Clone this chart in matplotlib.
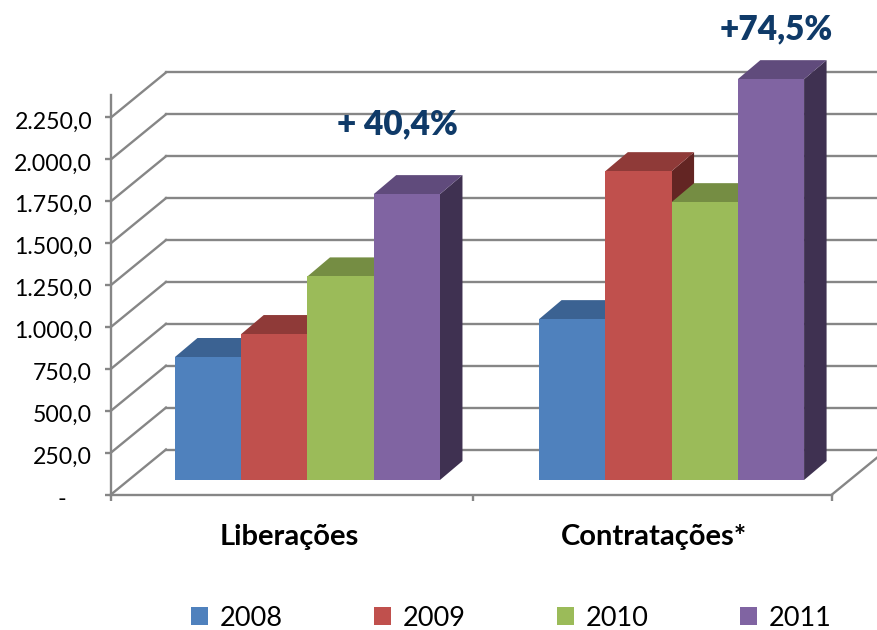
import matplotlib
matplotlib.use("Agg")
import matplotlib.pyplot as plt
from matplotlib.patches import Patch
from matplotlib.transforms import ScaledTranslation

plt.rcParams['font.family'] = ['Lato', 'DejaVu Sans']

categories = ['Liberações', 'Contratações*']
years = ['2008', '2009', '2010', '2011']
liberacoes = [734, 871, 1215, 1706]
contratacoes = [960, 1843, 1658, 2392]
tick_values = [0, 250, 500, 750, 1000, 1250, 1500, 1750, 2000, 2250]
tick_labels = ['-', '250,0', '500,0', '750,0', '1.000,0', '1.250,0', '1.500,0',
               '1.750,0', '2.000,0', '2.250,0']
front_colors = ['#4F81BD', '#C0504D', '#9BBB59', '#8064A2']
top_colors = ['#3B6292', '#8F3A38', '#758D43', '#604B7C']
side_colors = ['#274060', '#632523', '#4F6128', '#3F3151']

W, H = 877, 630
GREY = '#868686'
LW = 1.7

fig = plt.figure(figsize=(W / 100, H / 100), dpi=100)
ax = fig.add_axes([111 / W, (H - 494.5) / H, 721 / W, 400 / H])
ax.set_xlim(-0.5, 1.5)
ax.set_ylim(0, 2387)
ax.patch.set_visible(False)

# pixels -> data units, for the fake 3d depth
px_x = 2.0 / 721
px_y = 2387 / 400

# walls: depth lines + back gridlines
wall_x = 55 * px_x
wall_y = 45 * px_y
for v in tick_values:
    ax.plot([-0.5, -0.5 + wall_x], [v, v + wall_y], color=GREY, lw=LW, clip_on=False, zorder=1)
    ax.plot([-0.5 + wall_x, 1.5 + wall_x], [v + wall_y, v + wall_y], color=GREY, lw=LW,
            clip_on=False, zorder=1)
ax.plot([1.5, 1.5 + wall_x], [0, wall_y], color=GREY, lw=LW, clip_on=False, zorder=1)

# bars, left to right so each front covers the previous side
group_x = [0.045, 1.055]
bar_w = 66.25 * px_x
floor = 14.5 * px_y
dx = 22.5 * px_x
dy = 19 * px_y
for g, values in enumerate([liberacoes, contratacoes]):
    for i, v in enumerate(values):
        left = group_x[g] + (i - 2) * bar_w
        right = left + bar_w
        top = floor + v
        ax.fill([right, right + dx, right + dx, right], [floor, floor + dy, top + dy, top],
                color=side_colors[i], lw=0, clip_on=False, zorder=2)
        ax.fill([left, right, right + dx, left + dx], [top, top, top + dy, top + dy],
                color=top_colors[i], lw=0, clip_on=False, zorder=2)
        ax.bar(left, v, width=bar_w, bottom=floor, align='edge', color=front_colors[i],
               lw=0, clip_on=False, zorder=2)

for s in ['top', 'right']:
    ax.spines[s].set_visible(False)
for s in ['left', 'bottom']:
    ax.spines[s].set_color(GREY)
    ax.spines[s].set_linewidth(LW)
    ax.spines[s].set_zorder(1)

ax.set_yticks(tick_values)
ax.set_yticklabels(tick_labels, fontsize=16.7, color='black')
ax.tick_params(axis='y', length=4, width=LW, color=GREY, pad=9.5)
# labels sit a little under their ticks in the original
down = ScaledTranslation(0, -2.5 / 100, fig.dpi_scale_trans)
for lab in ax.get_yticklabels():
    lab.set_transform(lab.get_transform() + down)
# the zero dash is further left than the numbers
zero_lab = ax.get_yticklabels()[0]
zero_lab.set_transform(zero_lab.get_transform() + ScaledTranslation(-26 / 100, 0, fig.dpi_scale_trans))
ax.set_xticks([-0.5, 0.505, 1.5])
ax.set_xticklabels([])
ax.tick_params(axis='x', which='major', length=4, width=LW, color=GREY)
ax.set_xticks([-0.005, 1.006], minor=True)
ax.set_xticklabels(categories, minor=True, fontsize=21, fontweight='bold', color='black')
ax.tick_params(axis='x', which='minor', length=0, pad=21)

handles = [Patch(color=c, lw=0) for c in front_colors]
fig.legend(handles, years, loc='center left', bbox_to_anchor=(190.5 / W, 1 - 618 / H), ncol=4,
           frameon=False, fontsize=19.5, handlelength=0.63, handleheight=0.63,
           handletextpad=0.44, columnspacing=3.37, borderpad=0, borderaxespad=0)

fig.text(397 / W, 1 - 124 / H, '+ 40,4%', ha='center', va='center', fontsize=24,
         fontweight='heavy', color='#0F3A68')
fig.text(776 / W, 1 - 29 / H, '+74,5%', ha='center', va='center', fontsize=24,
         fontweight='heavy', color='#0F3A68')

fig.savefig('out.png', dpi=100)
